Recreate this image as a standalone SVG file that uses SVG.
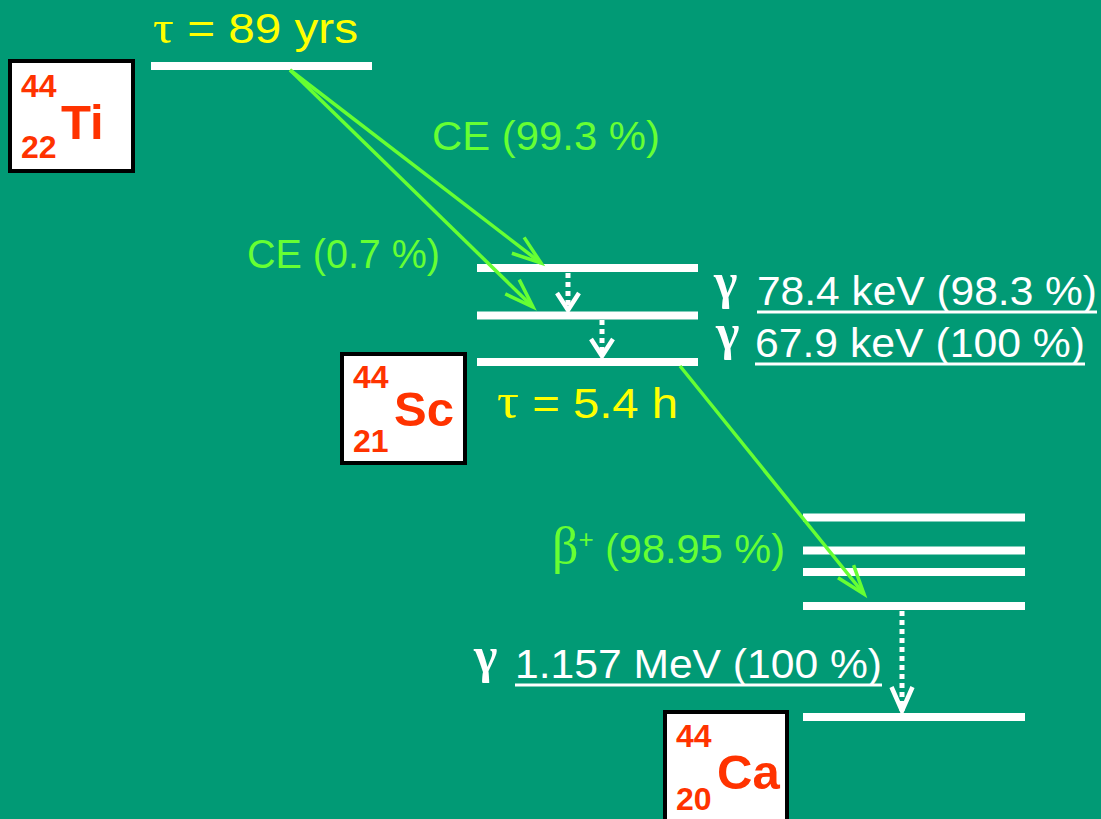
<svg xmlns="http://www.w3.org/2000/svg" width="1101" height="819" viewBox="0 0 1101 819">
<defs>
<style>
.lvl{stroke:#ffffff;stroke-width:8;stroke-linecap:butt}
.ce{stroke:#66ff33;stroke-width:3.5;fill:none}
.dot{stroke:#ffffff;stroke-width:5;stroke-dasharray:5 4;fill:none}
.box{fill:#ffffff;stroke:#000000;stroke-width:4}
.num{font-family:"Liberation Sans",Arial,sans-serif;font-weight:bold;font-size:32px;fill:#ff3300}
.sym{font-family:"Liberation Sans",Arial,sans-serif;font-weight:bold;font-size:49px;fill:#ff3300}
.lbl{font-family:"Liberation Sans",Arial,sans-serif;font-size:41px;fill:#66ff33}
.tau{font-family:"Liberation Sans",Arial,sans-serif;font-size:43px;fill:#ffff00}
.gl{font-family:"Liberation Sans",Arial,sans-serif;font-size:41px;fill:#ffffff}
.greek{font-family:"Liberation Serif","Times New Roman",serif}
.gam{font-family:"Liberation Serif","Times New Roman",serif;font-size:50px;font-weight:bold;fill:#ffffff}
.ul{stroke:#ffffff;stroke-width:3}
</style>
<marker id="gh" markerUnits="userSpaceOnUse" markerWidth="40" markerHeight="30" viewBox="-32 -15 40 30" refX="0" refY="0" orient="auto" overflow="visible">
<path d="M-29,-10 L0,0 L-29,10" fill="none" stroke="#66ff33" stroke-width="3.5"/>
</marker>
<marker id="wh" markerUnits="userSpaceOnUse" markerWidth="30" markerHeight="30" viewBox="-20 -15 30 30" refX="0" refY="0" orient="auto" overflow="visible">
<path d="M-17,-11 L0,0 L-17,11" fill="none" stroke="#ffffff" stroke-width="4.5" stroke-dasharray="none"/>
</marker>
<marker id="wh2" markerUnits="userSpaceOnUse" markerWidth="30" markerHeight="30" viewBox="-26 -15 30 30" refX="0" refY="0" orient="auto" overflow="visible">
<path d="M-24,-10.5 L0,0 L-24,10.5" fill="none" stroke="#ffffff" stroke-width="4.5" stroke-dasharray="none"/>
</marker>
</defs>
<rect x="0" y="0" width="1101" height="819" fill="#019a75"/>

<g id="levels">
<line class="lvl" x1="151" y1="66" x2="372" y2="66"/>
<line class="lvl" x1="477" y1="268" x2="698" y2="268"/>
<line class="lvl" x1="477" y1="315.5" x2="698" y2="315.5"/>
<line class="lvl" x1="477" y1="362" x2="698" y2="362"/>
<line class="lvl" x1="803" y1="517.5" x2="1025" y2="517.5"/>
<line class="lvl" x1="803" y1="550.5" x2="1025" y2="550.5"/>
<line class="lvl" x1="803" y1="572" x2="1025" y2="572"/>
<line class="lvl" x1="803" y1="606" x2="1025" y2="606"/>
<line class="lvl" x1="803" y1="717" x2="1025" y2="717"/>
</g>

<g id="connectors">
<line class="ce" x1="290" y1="70" x2="541" y2="263" marker-end="url(#gh)"/>
<line class="ce" x1="290" y1="70" x2="533" y2="307" marker-end="url(#gh)"/>
<line class="ce" x1="680" y1="366" x2="864" y2="594" marker-end="url(#gh)"/>
<line class="dot" x1="568" y1="273" x2="568" y2="310" marker-end="url(#wh)"/>
<line class="dot" x1="602" y1="320" x2="602" y2="356" marker-end="url(#wh)"/>
<line class="dot" x1="902" y1="611" x2="902" y2="711" marker-end="url(#wh2)"/>
</g>

<g id="ti44">
<rect class="box" x="10" y="61" width="123" height="110"/>
<text class="num" x="21" y="97">44</text>
<text class="num" x="21" y="158">22</text>
<text class="sym" x="61" y="139">Ti</text>
</g>

<g id="sc44">
<rect class="box" x="342" y="354" width="123" height="109"/>
<text class="num" x="353" y="388">44</text>
<text class="num" x="353" y="452">21</text>
<text class="sym" x="394" y="426">Sc</text>
</g>

<g id="ca44">
<rect class="box" x="665" y="712" width="122" height="120"/>
<text class="num" x="676" y="747">44</text>
<text class="num" x="676" y="810">20</text>
<text class="sym" x="717" y="789">Ca</text>
</g>

<g id="labels">
<text class="tau" x="153" y="43" textLength="205" lengthAdjust="spacingAndGlyphs"><tspan class="greek" font-size="47">τ</tspan> = 89 yrs</text>
<text class="tau" x="497" y="418" textLength="181" lengthAdjust="spacingAndGlyphs"><tspan class="greek" font-size="50">τ</tspan> = 5.4 h</text>
<text class="lbl" x="432" y="150" textLength="228" lengthAdjust="spacingAndGlyphs">CE (99.3 %)</text>
<text class="lbl" x="247" y="268" font-size="39" textLength="193" lengthAdjust="spacingAndGlyphs">CE (0.7 %)</text>
<text class="lbl" x="552" y="563"><tspan class="greek" font-size="52">β</tspan><tspan font-size="26" dy="-15">+</tspan></text>
<text class="lbl" x="605" y="563" textLength="180" lengthAdjust="spacingAndGlyphs">(98.95 %)</text>

<text class="gam" x="714" y="298">γ</text>
<text class="gl" x="757" y="305" textLength="340" lengthAdjust="spacingAndGlyphs">78.4 keV (98.3 %)</text>
<line class="ul" x1="757" y1="312" x2="1097" y2="312"/>
<text class="gam" x="716" y="349">γ</text>
<text class="gl" x="755" y="357" textLength="330" lengthAdjust="spacingAndGlyphs">67.9 keV (100 %)</text>
<line class="ul" x1="755" y1="364" x2="1085" y2="364"/>
<text class="gam" x="474" y="672">γ</text>
<text class="gl" x="515" y="678" textLength="367" lengthAdjust="spacingAndGlyphs">1.157 MeV (100 %)</text>
<line class="ul" x1="515" y1="685" x2="882" y2="685"/>
</g>
</svg>
